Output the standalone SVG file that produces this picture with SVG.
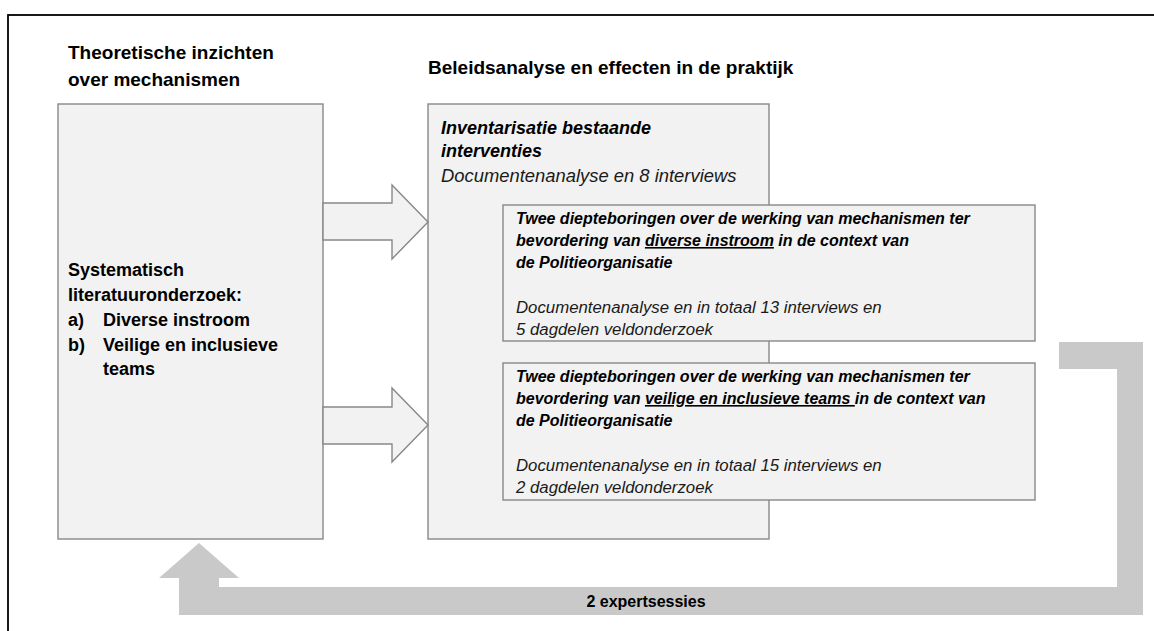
<svg xmlns="http://www.w3.org/2000/svg" width="1154" height="631" viewBox="0 0 1154 631">
<style>
text{font-family:"Liberation Sans",Arial,sans-serif;fill:#000}
.t{font-size:19px;font-weight:bold}
.lb{font-size:18px;font-weight:bold}
.bi18{font-size:18px;font-weight:bold;font-style:italic}
.i18{font-size:18.4px;font-style:italic;fill:#1a1a1a}
.bi{font-size:16px;font-weight:bold;font-style:italic}
.i{font-size:16.8px;font-style:italic;fill:#1a1a1a}
.u{text-decoration:underline}
.box{fill:#f2f2f2;stroke:#888;stroke-width:1.4}
.arr{fill:#f2f2f2;stroke:#888;stroke-width:1.4;stroke-linejoin:miter}
.fb{fill:#c9c9c9;stroke:none}
.lbl{font-size:16px;font-weight:bold}
</style>
<rect x="0" y="0" width="1154" height="631" fill="#fff"/>
<rect id="frame" x="8" y="15" width="1200" height="700" fill="none" stroke="#000" stroke-width="1.8"/>

<g id="title-left">
<text class="t" x="68" y="59">Theoretische inzichten</text>
<text class="t" x="68" y="86">over mechanismen</text>
</g>
<g id="title-right">
<text class="t" x="428" y="74">Beleidsanalyse en effecten in de praktijk</text>
</g>

<g id="node-literature">
<rect class="box" x="58" y="104" width="265" height="435"/>
<text class="lb" x="68" y="276">Systematisch</text>
<text class="lb" x="68" y="301">literatuuronderzoek:</text>
<text class="lb" x="68" y="326">a)</text>
<text class="lb" x="103" y="326">Diverse instroom</text>
<text class="lb" x="68" y="351">b)</text>
<text class="lb" x="103" y="351">Veilige en inclusieve</text>
<text class="lb" x="103" y="375">teams</text>
</g>

<g id="node-inventory">
<rect class="box" x="428" y="104" width="341" height="435"/>
<text class="bi18" x="441" y="134">Inventarisatie bestaande</text>
<text class="bi18" x="441" y="157">interventies</text>
<text class="i18" x="441" y="182">Documentenanalyse en 8 interviews</text>
</g>

<g id="node-deep-1">
<rect class="box" x="503" y="205" width="532" height="136"/>
<text class="bi" x="516" y="224">Twee diepteboringen over de werking van mechanismen ter</text>
<text class="bi" x="516" y="246">bevordering van <tspan class="u">diverse instroom</tspan> in de context van</text>
<text class="bi" x="516" y="268">de Politieorganisatie</text>
<text class="i" x="516" y="313">Documentenanalyse en in totaal 13 interviews en</text>
<text class="i" x="516" y="335">5 dagdelen veldonderzoek</text>
</g>

<g id="node-deep-2">
<rect class="box" x="503" y="363" width="532" height="137"/>
<text class="bi" x="516" y="382">Twee diepteboringen over de werking van mechanismen ter</text>
<text class="bi" x="516" y="404">bevordering van <tspan class="u">veilige en inclusieve teams </tspan>in de context van</text>
<text class="bi" x="516" y="426">de Politieorganisatie</text>
<text class="i" x="516" y="471">Documentenanalyse en in totaal 15 interviews en</text>
<text class="i" x="516" y="493">2 dagdelen veldonderzoek</text>
</g>

<g id="connectors">
<polygon class="arr" points="323,203 392,203 392,185 428,222 392,259 392,240 323,240"/>
<polygon class="arr" points="323,407 392,407 392,388 428,425 392,462 392,444 323,444"/>
<polygon class="fb" points="1059,342 1143,342 1143,615 179,615 179,578 159,578 199,543 239,578 219,578 219,587 1117,587 1117,369 1059,369"/>
<text class="lbl" x="646" y="607" text-anchor="middle">2 expertsessies</text>
</g>
</svg>
